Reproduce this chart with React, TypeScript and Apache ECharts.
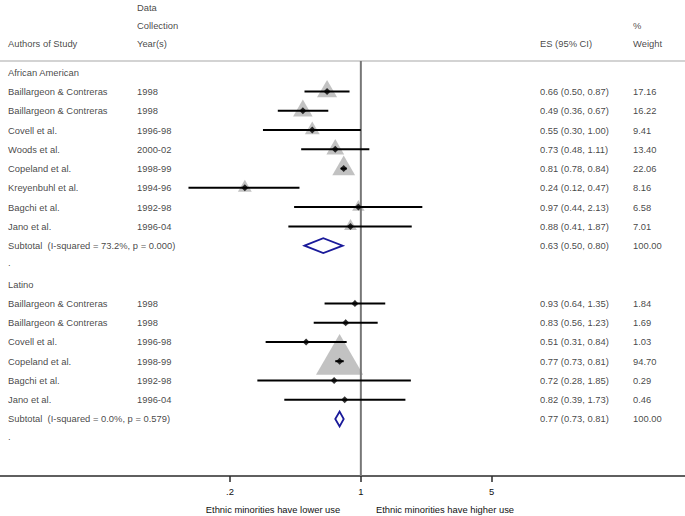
import React, { useEffect, useRef } from "react";
import * as echarts from "echarts";

// ---------- data ----------
const aaAuthors = ["Baillargeon & Contreras", "Baillargeon & Contreras", "Covell et al.", "Woods et al.", "Copeland et al.", "Kreyenbuhl et al.", "Bagchi et al.", "Jano et al."];
const aaYears = ["1998", "1998", "1996-98", "2000-02", "1998-99", "1994-96", "1992-98", "1996-04"];
const aaES = [0.66, 0.49, 0.55, 0.73, 0.81, 0.24, 0.97, 0.88];
const aaLo = [0.50, 0.36, 0.30, 0.48, 0.78, 0.12, 0.44, 0.41];
const aaHi = [0.87, 0.67, 1.00, 1.11, 0.84, 0.47, 2.13, 1.87];
const aaWeight = [17.16, 16.22, 9.41, 13.40, 22.06, 8.16, 6.58, 7.01];
const aaSubtotal = [0.63, 0.50, 0.80];
const aaSubtotalLabel = "Subtotal  (I-squared = 73.2%, p = 0.000)";

const laAuthors = ["Baillargeon & Contreras", "Baillargeon & Contreras", "Covell et al.", "Copeland et al.", "Bagchi et al.", "Jano et al."];
const laYears = ["1998", "1998", "1996-98", "1998-99", "1992-98", "1996-04"];
const laES = [0.93, 0.83, 0.51, 0.77, 0.72, 0.82];
const laLo = [0.64, 0.56, 0.31, 0.73, 0.28, 0.39];
const laHi = [1.35, 1.23, 0.84, 0.81, 1.85, 1.73];
const laWeight = [1.84, 1.69, 1.03, 94.70, 0.29, 0.46];
const laSubtotal = [0.77, 0.73, 0.81];
const laSubtotalLabel = "Subtotal  (I-squared = 0.0%, p = 0.579)";

const groups = [
  { name: "African American", authors: aaAuthors, years: aaYears, es: aaES, lo: aaLo, hi: aaHi, w: aaWeight, sub: aaSubtotal, subLabel: aaSubtotalLabel },
  { name: "Latino", authors: laAuthors, years: laYears, es: laES, lo: laLo, hi: laHi, w: laWeight, sub: laSubtotal, subLabel: laSubtotalLabel },
];

const xTicks = [0.2, 1, 5];
const headerTop = ["Data", "Collection", "%"];
const headerMain = ["Authors of Study", "Year(s)", "ES (95% CI)", "Weight"];
const captions = ["Ethnic minorities have lower use", "Ethnic minorities have higher use"];

// ---------- layout ----------
const W = 685;
const H = 516;
const FONT = "'Liberation Sans', Arial, Helvetica, sans-serif";
const FS = 9.4;
const TXT = "#111111";
const ROW_H = 19.26;
const ROW0_Y = 72.3;
const AXIS_Y = 476;
const yMin = -ROW0_Y / ROW_H;
const yMax = (AXIS_Y - ROW0_Y) / ROW_H;
const pxToRow = (py: number) => (py - ROW0_Y) / ROW_H;
const colAuthor = 8, colYear = 137, colES = 540, colW = 633;
const ONE_X = 360.85;
const DECADE = 187.2;
const xMin = Math.pow(10, -ONE_X / DECADE);
const xMax = Math.pow(10, (W - ONE_X) / DECADE);
const SIZE_K = 4.85;

const fmt2 = (v: number) => v.toFixed(2);

export default function App() {
  const ref = useRef<HTMLDivElement>(null);
  useEffect(() => {
    if (!ref.current) return;
    const chart = echarts.init(ref.current, undefined, { renderer: "svg" });

    const texts: any[] = [];
    const tri: any[] = [];
    const dots: any[] = [];
    const ci: any[] = [];
    const dia: any[] = [];

    // header
    texts.push({ value: [colYear, pxToRow(7)], name: headerTop[0] });
    texts.push({ value: [colYear, pxToRow(25)], name: headerTop[1] });
    texts.push({ value: [colW, pxToRow(25)], name: headerTop[2] });
    const hr = pxToRow(43);
    [colAuthor, colYear, colES, colW].forEach((c, i) => texts.push({ value: [c, hr], name: headerMain[i] }));

    let r = 0;
    groups.forEach((g) => {
      texts.push({ value: [colAuthor, r], name: g.name });
      r++;
      g.es.forEach((e, i) => {
        texts.push({ value: [colAuthor, r], name: g.authors[i] });
        texts.push({ value: [colYear, r], name: g.years[i] });
        texts.push({ value: [colES, r], name: `${fmt2(e)} (${fmt2(g.lo[i])}, ${fmt2(g.hi[i])})` });
        texts.push({ value: [colW, r], name: fmt2(g.w[i]) });
        const s = SIZE_K * Math.sqrt(g.w[i]);
        const h = s * 0.866;
        tri.push({ value: [e, r], symbolSize: [s, h], symbolOffset: [0, -h / 6] });
        dots.push([e, r]);
        ci.push([g.lo[i], g.hi[i], r]);
        r++;
      });
      texts.push({ value: [colAuthor, r], name: g.subLabel });
      texts.push({ value: [colES, r], name: `${fmt2(g.sub[0])} (${fmt2(g.sub[1])}, ${fmt2(g.sub[2])})` });
      texts.push({ value: [colW, r], name: "100.00" });
      dia.push([g.sub[1], g.sub[0], g.sub[2], r]);
      r++;
      texts.push({ value: [colAuthor, r - 0.1], name: "." });
      r++;
    });

    const headerLineRow = pxToRow(61);

    const option: any = {
      animation: false,
      grid: { left: 0, right: 0, top: 0, bottom: H - AXIS_Y, containLabel: false },
      xAxis: [
        {
          type: "log",
          logBase: 10,
          min: xMin,
          max: xMax,
          position: "bottom",
          axisLine: { show: true, onZero: false, lineStyle: { color: "#2a2a2a", width: 1.5 } },
          axisTick: { show: true, customValues: xTicks, length: 6, lineStyle: { color: "#2a2a2a", width: 1.5 } },
          axisLabel: {
            show: true,
            customValues: xTicks,
            margin: 11,
            color: TXT,
            fontSize: FS,
            fontFamily: FONT,
            formatter: (v: number) => (Math.abs(v - 0.2) < 1e-6 ? ".2" : String(Math.round(v))),
          },
          splitLine: { show: false },
        },
        { type: "value", min: 0, max: W, show: false, axisLine: { onZero: false } },
      ],
      yAxis: { type: "value", inverse: true, min: yMin, max: yMax, show: false },
      graphic: captions.map((c, i) => ({
        type: "text",
        x: i === 0 ? 273 : 445,
        y: 509,
        style: { text: c, fontSize: FS, fontFamily: FONT, fill: TXT, textAlign: "center", textVerticalAlign: "middle" },
      })),
      series: [
        {
          type: "line",
          xAxisIndex: 1,
          data: [[0, headerLineRow], [W, headerLineRow]],
          symbol: "none",
          lineStyle: { color: "#c4c4c4", width: 1.5 },
          silent: true,
          z: 1,
        },
        {
          type: "scatter",
          xAxisIndex: 0,
          symbol: "triangle",
          itemStyle: { color: "#b3b3b3" },
          data: tri,
          z: 2,
        },
        {
          type: "line",
          xAxisIndex: 0,
          data: [[1, headerLineRow], [1, yMax]],
          symbol: "none",
          lineStyle: { color: "#777777", width: 2 },
          z: 3,
        },
        {
          type: "custom",
          xAxisIndex: 0,
          encode: { x: [0, 1], y: 2 },
          data: ci,
          z: 4,
          renderItem: (p: any, api: any) => {
            const a = api.coord([api.value(0), api.value(2)]);
            const b = api.coord([api.value(1), api.value(2)]);
            return { type: "line", shape: { x1: a[0], y1: a[1], x2: b[0], y2: b[1] }, style: { stroke: "#000", lineWidth: 2 } };
          },
        },
        {
          type: "scatter",
          xAxisIndex: 0,
          symbol: "diamond",
          symbolSize: 7,
          itemStyle: { color: "#000" },
          data: dots,
          z: 5,
        },
        {
          type: "custom",
          xAxisIndex: 0,
          encode: { x: [0, 1, 2], y: 3 },
          data: dia,
          z: 5,
          renderItem: (p: any, api: any) => {
            const lo = api.coord([api.value(0), api.value(3)]);
            const es = api.coord([api.value(1), api.value(3)]);
            const hi = api.coord([api.value(2), api.value(3)]);
            const hh = 7.5;
            return {
              type: "polygon",
              shape: { points: [[lo[0], lo[1]], [es[0], es[1] - hh], [hi[0], hi[1]], [es[0], es[1] + hh]] },
              style: { fill: "none", stroke: "#1a1a9a", lineWidth: 1.8 },
            };
          },
        },
        {
          type: "scatter",
          xAxisIndex: 1,
          symbolSize: 0,
          clip: false,
          data: texts,
          silent: true,
          label: {
            show: true,
            position: "right",
            distance: 0,
            formatter: "{b}",
            color: TXT,
            fontSize: FS,
            fontFamily: FONT,
          },
          z: 6,
        },
      ],
    };
    chart.setOption(option);
    return () => chart.dispose();
  }, []);
  return <div ref={ref} style={{ position: "absolute", left: 0, top: 0, width: W, height: H }} />;
}
